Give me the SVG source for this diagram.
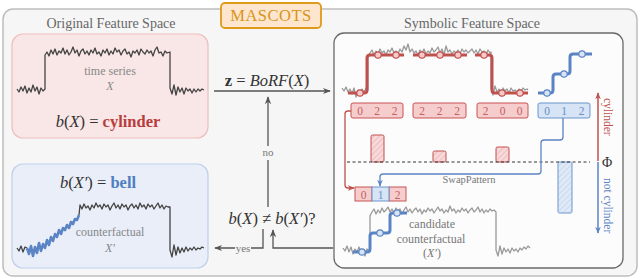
<svg xmlns="http://www.w3.org/2000/svg" width="640" height="280" viewBox="0 0 640 280" font-family="'Liberation Serif', 'DejaVu Serif', serif">
<style>
text{font-family:"Liberation Serif","DejaVu Serif",serif}
.title{font-size:14px;fill:#666;text-anchor:middle}
.small{font-size:12px;fill:#888;text-anchor:middle}
.math{font-size:16.5px;fill:#333;text-anchor:middle}
.it{font-style:italic}
.dig{font-size:11.5px;text-anchor:middle}
.dr{fill:#c46060}
.db{fill:#6a8fc4}
.noise{fill:none;stroke:#444;stroke-width:1.3;stroke-linejoin:round}
.noise2{fill:none;stroke:#999;stroke-width:1.3;stroke-linejoin:round}
.rbox{fill:#f6cdcd;stroke:#c85252;stroke-width:1}
.bbox{fill:#d7e4f5;stroke:#6b95cc;stroke-width:1}
.rc{fill:#f6caca;stroke:#c0504d;stroke-width:1.2}
.bc{fill:#d7e4f5;stroke:#5b84c4;stroke-width:1.2}
.rstep{fill:none;stroke:#c0504d;stroke-width:3;stroke-linejoin:round}
.bstep{fill:none;stroke:#5b84c4;stroke-width:3;stroke-linejoin:round}
.conn{fill:none;stroke:#555;stroke-width:1.3}
</style>
<defs>
<marker id="ag" viewBox="0 0 10 10" refX="9" refY="5" markerWidth="8" markerHeight="8" orient="auto" markerUnits="userSpaceOnUse"><path d="M0,1 L10,5 L0,9 L3,5z" fill="#555"/></marker>
<marker id="ar" viewBox="0 0 10 10" refX="9" refY="5" markerWidth="7" markerHeight="7" orient="auto" markerUnits="userSpaceOnUse"><path d="M0,1 L10,5 L0,9 L3,5z" fill="#c0504d"/></marker>
<marker id="ab" viewBox="0 0 10 10" refX="9" refY="5" markerWidth="7" markerHeight="7" orient="auto" markerUnits="userSpaceOnUse"><path d="M0,1 L10,5 L0,9 L3,5z" fill="#5b84c4"/></marker>
<pattern id="hr" width="4" height="4" patternUnits="userSpaceOnUse" patternTransform="rotate(45)"><rect width="4" height="4" fill="#f8d8d8"/><line x1="0" y1="0" x2="0" y2="4" stroke="#e3a5a5" stroke-width="1"/></pattern>
<pattern id="hb" width="4" height="4" patternUnits="userSpaceOnUse" patternTransform="rotate(45)"><rect width="4" height="4" fill="#e0eaf7"/><line x1="0" y1="0" x2="0" y2="4" stroke="#b3c9e8" stroke-width="1"/></pattern>
</defs>

<g id="frame">
<rect x="3" y="9" width="634" height="267" rx="10" fill="#f6f6f6" stroke="#bdbdbd" stroke-width="1.5"/>
</g>

<g id="mascots">
<rect x="221" y="3" width="100" height="25" rx="4" fill="#fde6cd" stroke="#e09a1a" stroke-width="1.8"/>
<text x="271" y="21" font-size="16.5" fill="#d8951a" text-anchor="middle" letter-spacing="0.5">MASCOTS</text>
</g>

<g id="original-space">
<text x="111" y="28" class="title">Original Feature Space</text>
<rect x="12" y="34" width="196" height="104" rx="11" fill="#f9e7e7" stroke="#efbdbd" stroke-width="1.2"/>
<polyline class="noise" points="17,89 19,92 21,87 23,91 25,86 27,93 29,88 31,92 33,85 35,91 37,87 39,94 41,88 43,91 45,89 45,55 47,52 49,56 51,50 53,54 55,49 57,55 59,51 61,53 63,48 65,54 67,50 69,55 71,52 73,47 75,53 77,50 79,56 81,51 83,49 85,54 87,51 89,55 91,50 93,53 95,48 97,54 99,52 101,56 103,50 105,53 107,49 109,55 111,51 113,54 115,48 117,52 119,50 121,55 123,51 125,49 127,54 129,52 131,57 133,51 135,53 137,50 139,55 141,49 143,52 145,54 147,50 149,53 151,51 153,56 155,50 157,47 159,53 161,52 163,56 165,51 167,53 170,52 170,88 172,94 174,85 176,95 178,87 180,92 182,88 184,94 186,88 188,91 190,89 192,93 194,89 196,92 198,89 200,91 202,89 204,90"/>
<text x="110" y="75" class="small">time series</text>
<text x="110" y="90" class="small it">X</text>
<text x="108" y="127" class="math" font-size="17"><tspan class="it">b</tspan>(<tspan class="it">X</tspan>) = <tspan fill="#b83c3c" font-weight="bold">cylinder</tspan></text>
</g>

<g id="counterfactual-space">
<rect x="12" y="164" width="196" height="104" rx="11" fill="#e9eef8" stroke="#bdd0ec" stroke-width="1.2"/>
<text x="98" y="188" class="math" font-size="17"><tspan class="it">b</tspan>(<tspan class="it">X′</tspan>) = <tspan fill="#4f7fc2" font-weight="bold">bell</tspan></text>
<polyline class="noise" points="17,248 19,251 21,246 23,252 25,247 27,248"/>
<polyline class="noise" points="79,215 80,205 82,209 84,204 86,208 88,206 90,210 92,205 94,208 96,203 98,207 100,205 102,209 104,204 106,207 108,205 110,210 112,206 114,203 116,208 118,205 120,209 122,204 124,207 126,205 128,210 130,206 132,204 134,208 136,205 138,209 140,203 142,207 144,205 146,209 148,204 150,207 152,205 154,209 156,206 158,203 160,208 162,205 164,209 166,206 168,207 170,207 170,250 172,257 174,245 176,255 178,247 180,253 182,248 184,252 186,247 188,251 190,248 192,250 194,247 196,250 198,248 200,249 202,247 204,248"/>
<polyline fill="none" stroke="#5b84c4" stroke-width="2.6" stroke-linejoin="round" points="27,248 29,254 31,246 33,256 35,247 37,253 39,243 41,251 43,244 45,248 47,240 49,245 51,237 53,241 55,234 57,237 59,230 61,234 63,228 65,230 67,225 69,228 71,222 73,224 75,219 77,220 79,215"/>
<text x="110" y="236" class="small">counterfactual</text>
<text x="110" y="252" class="small it">X′</text>
</g>

<g id="decision">
<text x="272" y="224" class="math"><tspan class="it">b</tspan>(<tspan class="it">X</tspan>) ≠ <tspan class="it">b</tspan>(<tspan class="it">X′</tspan>)?</text>
</g>

<g id="symbolic-space">
<text x="472" y="28" class="title">Symbolic Feature Space</text>
<rect x="334" y="33" width="289" height="235" rx="10" fill="#fcfcfc" stroke="#6a6a6a" stroke-width="1.3"/>
<polyline class="noise2" points="342,88 344,91 346,87 348,92 350,89 352,94 354,88 356,97 358,90 360,93 362,89 364,92 366,88 368,90 368,56 370,53 372,50 374,55 376,51 378,54 380,49 382,53 384,51 386,55 388,50 390,52 392,48 394,53 396,51 398,54 400,49 402,52 404,46 406,50 408,44 410,52 412,49 414,53 416,51 418,55 420,50 422,53 424,49 426,54 428,51 430,53 432,48 434,52 436,50 438,47 440,53 442,49 444,55 446,46 448,52 450,50 452,54 454,51 456,53 458,50 460,54 462,49 464,52 466,50 468,53 470,51 472,49 474,53 476,50 478,54 480,49 482,52 484,51 486,55 488,50 490,53 491,52 491,88 493,95 495,86 497,92 499,89 501,96 503,88 505,91 507,89 509,93 511,88 513,91 515,90 517,92 519,89 521,91 523,88 525,90 527,89 528,90"/>
<path class="rstep" d="M348,93 H364 Q367,93 367,90 V58 Q367,55 370,55 H404"/>
<path class="rstep" d="M413,55 H467"/>
<path class="rstep" d="M475,55 H489 Q492,55 492,58 V90 Q492,93 495,93 H528"/>
<g>
<circle class="rc" cx="360" cy="93" r="3.2"/><circle class="rc" cx="378" cy="55" r="3.2"/><circle class="rc" cx="396" cy="55" r="3.2"/>
<circle class="rc" cx="422" cy="55" r="3.2"/><circle class="rc" cx="440" cy="55" r="3.2"/><circle class="rc" cx="458" cy="55" r="3.2"/>
<circle class="rc" cx="484" cy="55" r="3.2"/><circle class="rc" cx="502" cy="93" r="3.2"/><circle class="rc" cx="520" cy="93" r="3.2"/>
</g>
<path class="bstep" d="M538,93 H550 Q553,93 553,90 V77 Q553,74 556,74 H567 Q570,74 570,71 V57 Q570,54 573,54 H592"/>
<circle class="bc" cx="547" cy="93" r="3.2"/><circle class="bc" cx="564" cy="74" r="3.2"/><circle class="bc" cx="582" cy="54" r="3.2"/>

<g id="word1"><rect class="rbox" x="351" y="103" width="52" height="15" rx="2"/>
<text class="dig dr" y="114.5"><tspan x="360">0</tspan><tspan x="377">2</tspan><tspan x="394.5">2</tspan></text></g>
<g id="word2"><rect class="rbox" x="413" y="103" width="53" height="15" rx="2"/>
<text class="dig dr" y="114.5"><tspan x="422">2</tspan><tspan x="439.5">2</tspan><tspan x="457">2</tspan></text></g>
<g id="word3"><rect class="rbox" x="477" y="103" width="51" height="15" rx="2"/>
<text class="dig dr" y="114.5"><tspan x="485.5">2</tspan><tspan x="502.5">0</tspan><tspan x="519.5">0</tspan></text></g>
<g id="word-blue"><rect class="bbox" x="538" y="103" width="52" height="15" rx="2"/>
<text class="dig db" y="114.5"><tspan x="547">0</tspan><tspan x="564">1</tspan><tspan x="581.5">2</tspan></text></g>

<g id="bars">
<rect x="371" y="135" width="13" height="27" rx="1.5" fill="url(#hr)" stroke="#c0504d" stroke-width="1"/>
<rect x="433" y="151" width="13" height="11" rx="1.5" fill="url(#hr)" stroke="#c0504d" stroke-width="1"/>
<rect x="496" y="147" width="13" height="15" rx="1.5" fill="url(#hr)" stroke="#c0504d" stroke-width="1"/>
<rect x="558" y="162" width="14" height="51" rx="1.5" fill="url(#hb)" stroke="#6b95cc" stroke-width="1"/>
<line x1="347" y1="162" x2="590" y2="162" stroke="#333" stroke-width="1.2" stroke-dasharray="3,2.5"/>
</g>
<text x="607" y="167" font-size="14" fill="#333" text-anchor="middle">Φ</text>
<text transform="translate(604,98) rotate(90)" font-size="11.5" fill="#c0504d">cylinder</text>
<text transform="translate(604,178) rotate(90)" font-size="11.5" fill="#5b84c4">not cylinder</text>

<g id="candidate-word">
<rect x="355" y="187" width="17" height="14" fill="#f6cdcd" stroke="#c85252" stroke-width="1"/>
<rect x="389" y="187" width="17" height="14" fill="#f6cdcd" stroke="#c85252" stroke-width="1"/>
<rect x="372" y="187" width="17" height="14" fill="#d7e4f5" stroke="#6b95cc" stroke-width="1"/>
<text class="dig" y="198.5" font-size="12"><tspan x="363.5" class="dr">0</tspan><tspan x="380.5" class="db">1</tspan><tspan x="397.5" class="dr">2</tspan></text>
</g>
<text x="469" y="183" font-size="10.5" fill="#777" text-anchor="middle">SwapPattern</text>

<polyline class="noise2" points="343,248 345,251 347,246 349,252 351,247 353,254 355,249 357,252 359,247 361,253 363,250 365,256 367,249 369,251 370,250 370,216 372,212 374,209 376,214 378,210 380,213 382,208 384,212 386,210 388,207 390,212 392,209 394,213 396,208 398,211 400,209 402,214 404,210 406,207 408,212 410,209 412,213 414,210 416,208 418,212 420,209 422,214 424,210 426,212 428,208 430,211 432,209 434,213 436,210 438,207 440,211 442,209 444,213 446,210 448,212 450,206 452,211 454,209 456,213 458,210 460,212 462,208 464,211 466,209 468,213 470,210 472,208 474,212 476,210 478,207 480,212 482,209 484,213 486,210 488,212 490,209 492,211 494,210 496,212 496,250 498,256 500,246 502,254 504,248 506,252 508,249 510,253 512,248 514,251 516,249 518,252 520,248 522,250 524,247 526,249 528,246 530,248"/>
<path class="bstep" d="M353,252 H367 Q370,252 370,249 V236 Q370,233 373,233 H387 Q390,233 390,230 V216 Q390,213 393,213 H407"/>
<circle class="bc" cx="362" cy="252" r="3.2"/><circle class="bc" cx="380" cy="233" r="3.2"/><circle class="bc" cx="397" cy="213" r="3.2"/>
<text x="432" y="228" font-size="12" fill="#777" text-anchor="middle">candidate</text>
<text x="431" y="243" font-size="12" fill="#777" text-anchor="middle">counterfactual</text>
<text x="432" y="257" font-size="12" fill="#777" text-anchor="middle">(<tspan class="it">X′</tspan>)</text>
</g>

<g id="connectors">
<line class="conn" x1="214" y1="91" x2="330" y2="91" marker-end="url(#ag)"/>
<text x="267" y="86" class="math" font-size="16"><tspan font-weight="bold">z</tspan> = <tspan class="it">BoRF</tspan>(<tspan class="it">X</tspan>)</text>
<path class="conn" d="M268,207 V160 M268,146 V97" marker-end="url(#ag)"/>
<text x="268" y="156" font-size="11" fill="#777" text-anchor="middle">no</text>
<path class="conn" d="M263,229 V248 H251 M235,248 H215" marker-end="url(#ag)"/>
<text x="243" y="251.5" font-size="11" fill="#777" text-anchor="middle">yes</text>
<path class="conn" d="M333,248 H273 V230" marker-end="url(#ag)"/>
<path fill="none" stroke="#c0504d" stroke-width="1.3" d="M351,111 H348 Q345,111 345,114 V185 Q345,188 348,188 H354" marker-end="url(#ar)"/>
<path fill="none" stroke="#5b84c4" stroke-width="1.3" d="M563,118 V137 Q563,140 560,140 H544 Q541,140 541,143 V171 Q541,174 538,174 H383 Q380,174 380,177 V186" marker-end="url(#ab)"/>
<line x1="598" y1="161" x2="598" y2="93" stroke="#c0504d" stroke-width="1.5" marker-end="url(#ar)"/>
<line x1="598" y1="162" x2="598" y2="233" stroke="#5b84c4" stroke-width="1.5" marker-end="url(#ab)"/>
</g>
</svg>
